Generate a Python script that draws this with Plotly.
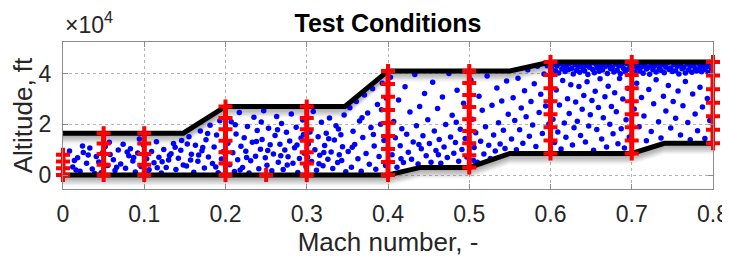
import plotly.graph_objects as go

# ---------------- data ----------------
# flight envelope (Mach, altitude ft)
upper_mach = [0.0, 0.148, 0.2, 0.347, 0.4, 0.55, 0.6, 0.8]
upper_alt = [16500, 16500, 27000, 27000, 41000, 41000, 44500, 44500]
lower_mach = [0.0, 0.4, 0.44, 0.5, 0.55, 0.7, 0.74, 0.8]
lower_alt = [0, 0, 3000, 3000, 8500, 8500, 12500, 12500]

# test-condition columns (Mach, altitudes in ft)
test_mach = [0.0, 0.05, 0.1, 0.2, 0.3, 0.4, 0.5, 0.6, 0.7, 0.8]
test_alts = [
    [0, 2700, 5300, 8000],
    [0, 4100, 8300, 12400, 16500],
    [0, 4100, 8300, 12400, 16500],
    [0, 4500, 9000, 13500, 18000, 22500, 27000],
    [0, 4500, 9000, 13500, 18000, 22500, 27000],
    [0, 5100, 10300, 15400, 20500, 25600, 30800, 35900, 41000],
    [3000, 7800, 12500, 17300, 22000, 26800, 31500, 36300, 41000],
    [8500, 13600, 18800, 23900, 29100, 34200, 39400, 44500],
    [8500, 13600, 18800, 23900, 29100, 34200, 39400, 44500],
    [12500, 17800, 23200, 28500, 33800, 39200, 44500],
]
extra_mach = [0.25]
extra_alt = [0]

# sampled flight points (Mach, altitude in kft)
pts = [
    (0.008,9.5),(0.012,3.2),(0.018,6.8),(0.021,1.5),(0.025,8.9),(0.029,4.6),(0.033,10.6),(0.036,2.4),(0.041,7.3),(0.044,5.1),
    (0.047,0.9),(0.052,11.2),(0.055,3.8),(0.058,8.1),(0.062,6.0),(0.064,1.8),(0.068,9.9),(0.071,4.3),(0.074,12.1),(0.077,2.7),
    (0.081,7.6),(0.083,10.4),(0.086,5.5),(0.089,1.2),(0.092,8.7),(0.096,3.4),(0.099,11.8),(0.103,6.4),(0.106,2.1),(0.109,9.3),
    (0.112,4.8),(0.115,13.1),(0.118,7.0),(0.121,0.8),(0.124,10.1),(0.127,3.0),(0.130,5.9),(0.133,8.4),(0.136,12.4),(0.139,2.2),
    (0.142,6.6),(0.145,9.8),(0.148,4.0),(0.014,5.7),(0.031,7.9),(0.049,9.0),(0.066,3.1),(0.087,6.9),(0.104,1.6),(0.122,5.2),
    (0.138,10.9),(0.016,2.0),(0.039,0.6),(0.057,12.9),(0.079,9.1),(0.094,14.2),(0.116,2.9),(0.131,7.7),(0.146,13.6),(0.024,11.4),
    (0.152,3.6),(0.155,15.1),(0.158,8.2),(0.161,1.1),(0.163,11.7),(0.166,5.4),(0.169,17.3),(0.171,9.6),(0.174,2.8),(0.176,13.9),
    (0.179,7.1),(0.181,19.6),(0.184,4.5),(0.186,11.0),(0.189,15.8),(0.191,0.9),(0.193,21.4),(0.195,6.3),(0.197,9.2),(0.153,12.2),
    (0.167,7.9),(0.178,16.4),(0.188,3.2),(0.172,10.8),(0.157,5.9),
    (0.203,12.5),(0.205,4.1),(0.207,21.0),(0.209,8.8),(0.211,1.4),(0.213,16.2),(0.215,6.0),(0.217,24.6),(0.219,11.3),(0.221,3.0),
    (0.223,14.7),(0.225,9.4),(0.227,19.1),(0.229,0.8),(0.231,5.6),(0.233,12.9),(0.235,22.8),(0.237,7.4),(0.239,17.5),(0.241,2.5),
    (0.243,10.2),(0.245,14.0),(0.247,25.3),(0.249,6.8),(0.251,3.9),(0.253,18.4),(0.255,11.9),(0.257,1.7),(0.259,8.3),(0.261,15.6),
    (0.263,23.1),(0.265,5.0),(0.267,12.1),(0.269,20.3),(0.271,2.2),(0.273,9.9),(0.275,16.9),(0.277,7.2),(0.279,13.4),(0.281,24.0),
    (0.283,4.6),(0.285,10.7),(0.287,18.8),(0.289,1.0),(0.291,6.5),(0.293,14.6),(0.295,21.7),(0.297,8.6),(0.299,3.3),(0.302,12.3),
    (0.304,17.0),(0.306,5.3),(0.308,25.0),(0.310,10.0),(0.312,1.9),(0.314,15.1),(0.316,7.8),(0.318,20.8),(0.320,3.7),(0.322,11.6),
    (0.324,16.5),(0.326,6.2),(0.328,22.5),(0.330,9.1),(0.332,2.6),(0.334,13.8),(0.336,19.4),(0.338,4.9),(0.340,8.0),(0.342,15.9),
    (0.344,11.1),(0.346,23.6),(0.348,1.3),(0.212,19.8),(0.226,6.9),(0.238,13.2),(0.252,9.7),(0.264,17.8),(0.276,4.0),(0.288,11.8),
    (0.301,7.0),(0.315,4.4),(0.327,14.3),(0.339,18.1),(0.218,2.0),(0.244,20.9),(0.268,7.6),(0.296,16.0),(0.321,8.9),(0.343,5.7),
    (0.351,9.3),(0.353,26.5),(0.355,3.1),(0.357,17.2),(0.359,12.0),(0.361,29.0),(0.363,6.4),(0.365,21.3),(0.367,1.5),(0.369,14.8),
    (0.371,31.5),(0.373,8.5),(0.375,24.4),(0.377,4.2),(0.379,18.7),(0.381,34.0),(0.383,11.4),(0.385,2.3),(0.387,27.8),(0.389,7.3),
    (0.391,20.0),(0.393,36.2),(0.395,13.6),(0.397,3.8),(0.398,30.2),(0.356,10.9),(0.368,22.6),(0.382,16.0),(0.392,25.7),
    (0.403,38.5),(0.405,8.0),(0.407,21.1),(0.409,14.7),(0.411,3.1),(0.413,29.6),(0.415,11.5),(0.417,18.2),(0.419,4.9),(0.421,34.8),
    (0.423,16.1),(0.425,9.0),(0.427,24.8),(0.429,6.2),(0.431,13.0),(0.433,39.6),(0.435,19.4),(0.437,4.3),(0.439,27.0),(0.441,10.4),
    (0.443,15.5),(0.445,32.1),(0.447,7.6),(0.449,21.8),(0.451,12.4),(0.453,5.0),(0.455,36.5),(0.457,17.3),(0.459,9.7),(0.461,26.2),
    (0.463,14.0),(0.465,4.6),(0.467,30.7),(0.469,11.0),(0.471,19.9),(0.473,6.9),(0.475,40.0),(0.477,15.0),(0.479,23.5),(0.481,8.6),
    (0.483,12.8),(0.485,33.4),(0.487,5.4),(0.489,18.0),(0.491,10.1),(0.493,28.3),(0.495,14.4),(0.497,7.1),(0.502,37.4),(0.504,22.0),
    (0.506,10.8),(0.508,16.7),(0.510,5.0),(0.512,31.0),(0.514,13.3),(0.516,25.5),(0.518,8.3),(0.520,19.0),(0.522,39.0),(0.524,11.7),
    (0.526,6.5),(0.528,27.5),(0.530,15.8),(0.532,9.5),(0.534,34.3),(0.536,20.6),(0.538,12.2),(0.540,29.2),(0.542,17.6),(0.544,10.5),
    (0.546,37.0),(0.548,23.9),(0.416,6.4),(0.438,12.0),(0.462,8.0),(0.484,20.8),(0.505,5.8),
    (0.552,14.2),(0.554,30.4),(0.556,21.5),(0.558,10.0),(0.560,38.1),(0.562,17.8),(0.564,26.4),(0.566,12.5),(0.568,33.2),(0.570,23.0),
    (0.572,41.5),(0.574,15.3),(0.576,29.0),(0.578,19.7),(0.580,36.0),(0.582,11.2),(0.584,42.8),(0.586,24.6),(0.588,31.8),(0.590,16.4),
    (0.592,39.8),(0.594,27.2),(0.596,43.0),(0.598,20.1),
    (0.603,22.0),(0.605,12.8),(0.607,33.5),(0.609,17.0),(0.611,27.6),(0.613,10.3),(0.615,37.2),(0.617,20.5),(0.619,14.9),(0.621,30.0),
    (0.623,24.2),(0.625,35.6),(0.627,11.8),(0.629,18.6),(0.631,28.8),(0.633,21.2),(0.635,34.9),(0.637,15.6),(0.639,25.9),(0.641,31.3),
    (0.643,13.0),(0.645,36.7),(0.647,19.3),(0.649,23.7),(0.651,29.4),(0.653,9.8),(0.655,33.0),(0.657,17.9),(0.659,26.6),(0.661,37.9),
    (0.663,14.2),(0.665,22.6),(0.667,30.8),(0.669,11.0),(0.671,35.0),(0.673,20.0),(0.675,27.0),(0.677,16.3),(0.679,32.4),(0.681,24.9),
    (0.683,12.3),(0.685,38.0),(0.687,18.2),(0.689,29.9),(0.691,10.6),(0.693,21.8),(0.695,34.2),(0.697,15.0),(0.703,26.0),(0.706,36.2),
    (0.709,19.0),(0.712,30.5),(0.715,23.3),(0.718,13.5),(0.721,33.7),(0.724,17.1),(0.727,28.1),(0.730,37.5),(0.733,21.0),(0.736,14.6),
    (0.739,31.0),(0.742,25.2),(0.745,35.3),(0.748,18.5),(0.751,29.0),(0.754,22.4),(0.757,33.1),(0.760,15.8),(0.763,27.3),(0.766,36.8),
    (0.769,20.7),(0.772,13.9),(0.775,31.9),(0.778,24.0),(0.781,17.4),(0.784,34.6),(0.787,26.8),(0.790,14.4),(0.793,30.1),(0.796,21.5),
    (0.601,42.3),(0.604,43.6),(0.606,41.1),(0.608,42.9),(0.610,40.2),(0.612,43.9),(0.614,41.8),(0.616,42.6),(0.618,40.8),(0.620,43.2),
    (0.622,41.5),(0.624,44.0),(0.626,42.0),(0.628,39.8),(0.630,43.4),(0.632,41.2),(0.634,42.7),(0.636,40.5),(0.638,43.8),(0.640,42.1),
    (0.642,41.0),(0.644,43.1),(0.646,39.6),(0.648,42.5),(0.650,44.1),(0.652,41.6),(0.654,40.3),(0.656,43.5),(0.658,42.2),(0.660,40.9),
    (0.662,43.0),(0.664,41.4),(0.666,44.0),(0.668,42.8),(0.670,40.0),(0.672,43.3),(0.674,41.9),(0.676,42.4),(0.678,40.6),(0.680,43.7),
    (0.682,41.3),(0.684,42.9),(0.686,39.9),(0.688,43.4),(0.690,42.0),(0.692,40.7),(0.694,43.9),(0.696,41.7),(0.698,42.6),(0.702,43.1),
    (0.704,40.4),(0.706,42.3),(0.708,44.0),(0.710,41.0),(0.712,42.7),(0.714,40.1),(0.716,43.6),(0.718,41.8),(0.720,42.4),(0.722,39.7),
    (0.724,43.2),(0.726,41.5),(0.728,42.9),(0.730,40.6),(0.732,43.8),(0.734,42.0),(0.736,41.2),(0.738,43.4),(0.740,40.3),(0.742,42.5),
    (0.744,44.1),(0.746,41.6),(0.748,42.2),(0.750,40.8),(0.752,43.5),(0.754,41.1),(0.756,42.8),(0.758,39.8),(0.760,43.0),(0.762,41.9),
    (0.764,42.4),(0.766,40.2),(0.768,43.7),(0.770,41.4),(0.772,42.9),(0.774,40.5),(0.776,43.3),(0.778,42.0),(0.780,41.0),(0.782,43.9),
    (0.784,42.3),(0.786,40.7),(0.788,43.1),(0.790,41.6),(0.792,42.6),(0.794,40.4),(0.796,43.6),(0.798,41.9),
]
pt_mach = [p[0] for p in pts]
pt_alt = [p[1] * 1000 for p in pts]

x_ticks = [0, 0.1, 0.2, 0.3, 0.4, 0.5, 0.6, 0.7, 0.8]
x_ticklabels = ["0", "0.1", "0.2", "0.3", "0.4", "0.5", "0.6", "0.7", "0.8"]
y_ticks = [0, 20000, 40000]
y_ticklabels = ["0", "2", "4"]

FONT = "Liberation Sans, Arial, sans-serif"

# ---------------- figure ----------------
fig = go.Figure()

# drop shadow of the envelope lines
for k in range(1, 10):
    off = k * 420
    alpha = 0.2 * (1 - (k - 1) / 9)
    for mx, al in ((upper_mach, upper_alt), (lower_mach, lower_alt)):
        fig.add_trace(go.Scatter(
            x=mx, y=[a - off for a in al], mode="lines",
            line=dict(color=f"rgba(90,90,90,{alpha:.3f})", width=4),
            hoverinfo="skip", showlegend=False))

fig.add_trace(go.Scatter(
    x=pt_mach, y=pt_alt, mode="markers",
    marker=dict(color="#0000ff", size=5.5, line=dict(width=0)),
    showlegend=False))

for mx, al in ((upper_mach, upper_alt), (lower_mach, lower_alt)):
    fig.add_trace(go.Scatter(
        x=mx, y=al, mode="lines",
        line=dict(color="black", width=5),
        showlegend=False))

red_marker = dict(symbol="cross-thin", size=10, color="#ff0000",
                  line=dict(color="#ff0000", width=4))
for m, alts in zip(test_mach, test_alts):
    fig.add_trace(go.Scatter(
        x=[m] * len(alts), y=alts, mode="lines+markers",
        line=dict(color="#ff0000", width=5),
        marker=red_marker, cliponaxis=False, showlegend=False))
fig.add_trace(go.Scatter(
    x=extra_mach, y=extra_alt, mode="markers",
    marker=red_marker, cliponaxis=False, showlegend=False))

axis_common = dict(
    showline=True, linecolor="#8c8c8c", linewidth=1, mirror="ticks",
    ticks="inside", ticklen=5, tickcolor="#8c8c8c",
    showgrid=True, gridcolor="#b4b4b4", griddash="dot", gridwidth=1,
    zeroline=False, automargin=False,
    tickfont=dict(family=FONT, size=23, color="#262626"),
)

fig.update_layout(
    width=722, height=251,
    margin=dict(l=55, r=17, t=34, b=70),
    paper_bgcolor="white", plot_bgcolor="white",
    title=dict(text="<b>Test Conditions</b>", xref="paper", x=0.5, xanchor="center",
               yref="container", y=0.938, yanchor="middle",
               font=dict(family=FONT, size=25, color="black")),
    xaxis=dict(range=[0, 0.8], tickvals=x_ticks, ticktext=x_ticklabels,
               ticklabelstandoff=4,
               title=dict(text="Mach number, -", standoff=2,
                          font=dict(family=FONT, size=26, color="#262626")),
               **axis_common),
    yaxis=dict(range=[-5500, 52400], tickvals=y_ticks, ticktext=y_ticklabels,
               ticklabelstandoff=6,
               title=dict(text="Altitude, ft", standoff=5,
                          font=dict(family=FONT, size=26, color="#262626")),
               **axis_common),
    annotations=[dict(text="×10<sup>4</sup>", xref="paper", yref="paper", x=0, y=1.0,
                      xanchor="left", yanchor="bottom", yshift=2, showarrow=False,
                      font=dict(family=FONT, size=23, color="#262626"))],
)

fig.write_html("out.html")
